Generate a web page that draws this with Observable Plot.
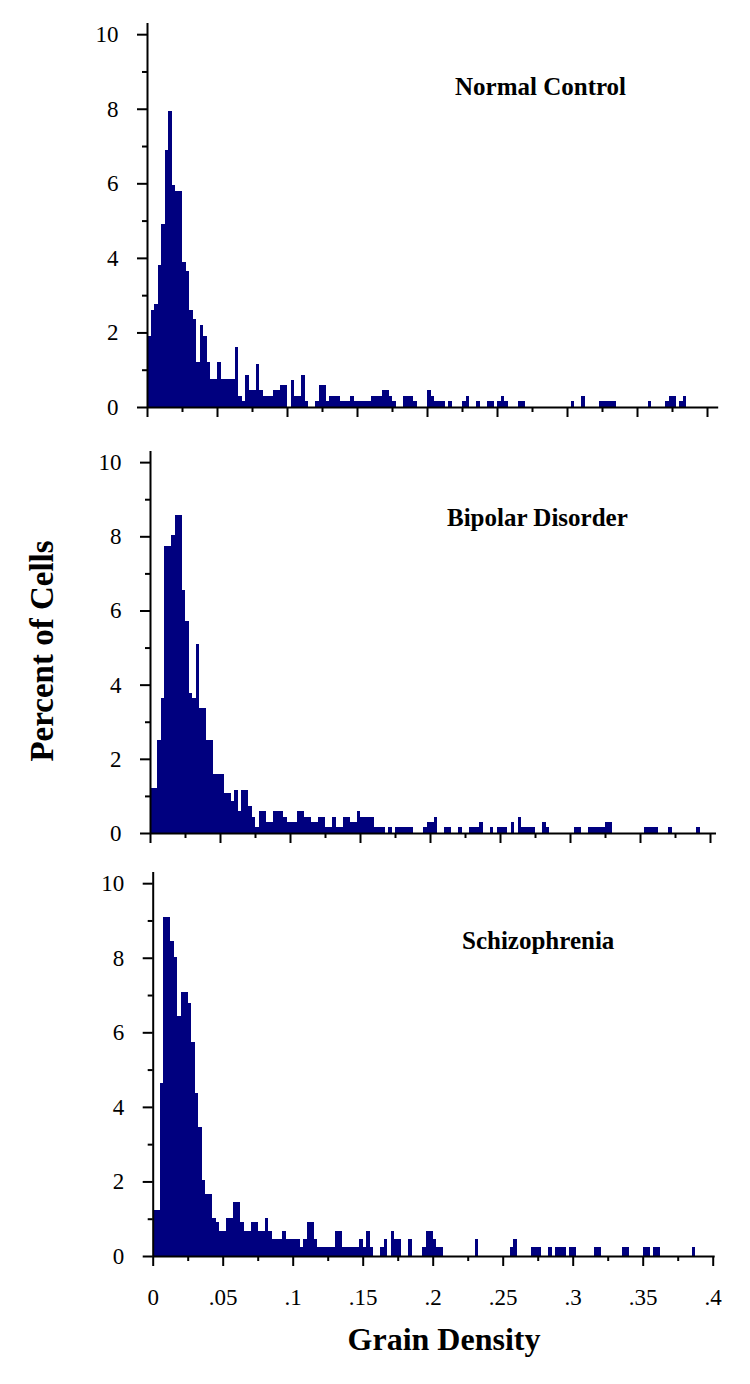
<!DOCTYPE html>
<html>
<head>
<meta charset="utf-8">
<script src="https://cdn.jsdelivr.net/npm/d3@7"></script>
<script src="https://cdn.jsdelivr.net/npm/@observablehq/plot@0.6"></script>
<style>
  html, body { margin: 0; padding: 0; background: #ffffff; }
  #wrap { position: relative; width: 750px; height: 1384px; overflow: hidden; font-family: "Liberation Serif", "Times New Roman", serif; }
  .panel { position: absolute; left: 0; }
  .ptitle { position: absolute; font-weight: bold; font-size: 25px; line-height: 25px; white-space: nowrap; color: #000; }
  .axtitle { position: absolute; font-weight: bold; white-space: nowrap; color: #000; }
</style>
</head>
<body>
<div id="wrap"></div>
<script>
// ---------- data ----------
const binWidth = 0.0025; // grain density per bin
const panelTitles = ["Normal Control", "Bipolar Disorder", "Schizophrenia"];
const xTitle = "Grain Density";
const yTitle = "Percent of Cells";
const yMajorTicks = [0, 2, 4, 6, 8, 10];
const yMinorTicks = [1, 3, 5, 7, 9];
const xMajorTicks = [0, 0.05, 0.1, 0.15, 0.2, 0.25, 0.3, 0.35, 0.4];
const xMinorTicks = [0.025, 0.075, 0.125, 0.175, 0.225, 0.275, 0.325, 0.375];
const xTickLabels = ["0", ".05", ".1", ".15", ".2", ".25", ".3", ".35", ".4"];

// percent of cells per bin (bin i covers [i*0.0025, (i+1)*0.0025))
const normalControl = [
  1.9, 2.6, 2.75, 3.8, 4.9, 6.9, 7.95, 5.95, 5.8, 5.8,
  3.9, 3.65, 2.6, 2.35, 1.2, 2.2, 1.9, 1.2, 0.75, 0.75,
  1.2, 0.75, 0.75, 0.75, 0.75, 1.6, 0.3, 0.15, 0.87, 0.45,
  0.45, 1.15, 0.45, 0.3, 0.3, 0.3, 0.45, 0.45, 0.6, 0.6,
  0, 0.73, 0.3, 0.3, 0.87, 0.15, 0, 0, 0.15, 0.6,
  0.6, 0.15, 0.3, 0.3, 0.3, 0.15, 0.15, 0.15, 0.3, 0.15,
  0.15, 0.15, 0.15, 0.15, 0.3, 0.3, 0.3, 0.45, 0.45, 0.3,
  0.15, 0, 0, 0.3, 0.3, 0.3, 0.15, 0, 0, 0,
  0.45, 0.3, 0.15, 0.15, 0.15, 0, 0.15, 0, 0, 0,
  0.15, 0.3, 0, 0, 0.15, 0, 0, 0.15, 0.15, 0,
  0.15, 0.3, 0.15, 0, 0, 0, 0.15, 0.15, 0, 0,
  0, 0, 0, 0, 0, 0, 0, 0, 0, 0,
  0, 0.15, 0, 0, 0.3, 0, 0, 0, 0, 0.15,
  0.15, 0.15, 0.15, 0.15, 0, 0, 0, 0, 0, 0,
  0, 0, 0, 0.15, 0, 0, 0, 0, 0.15, 0.3,
  0.3, 0, 0.15, 0.3, 0, 0, 0, 0, 0, 0
];
const bipolarDisorder = [
  1.2, 1.2, 2.5, 3.63, 7.75, 7.75, 8.03, 8.58, 8.58, 6.55,
  5.72, 3.78, 3.63, 5.1, 3.38, 3.38, 2.5, 2.5, 1.6, 1.6,
  1.6, 1.08, 1.08, 0.87, 1.16, 0.58, 1.16, 1.16, 0.72, 0.43,
  0.15, 0.58, 0.58, 0.29, 0.29, 0.58, 0.58, 0.58, 0.43, 0.29,
  0.29, 0.29, 0.58, 0.58, 0.43, 0.43, 0.29, 0.29, 0.43, 0.43,
  0.15, 0.15, 0.43, 0.15, 0.15, 0.43, 0.43, 0.29, 0.29, 0.58,
  0.43, 0.43, 0.43, 0.43, 0.15, 0.15, 0.15, 0, 0.15, 0,
  0.15, 0.15, 0.15, 0.15, 0.15, 0, 0, 0, 0.15, 0.29,
  0.29, 0.43, 0, 0, 0.15, 0.15, 0, 0, 0.15, 0,
  0, 0.15, 0.15, 0.15, 0.29, 0, 0, 0.15, 0, 0.15,
  0.15, 0.15, 0, 0.29, 0, 0.43, 0.15, 0.15, 0.15, 0.15,
  0, 0, 0.29, 0.15, 0, 0, 0, 0, 0, 0,
  0, 0.15, 0.15, 0, 0, 0.15, 0.15, 0.15, 0.15, 0.15,
  0.29, 0.29, 0, 0, 0, 0, 0, 0, 0, 0,
  0, 0.15, 0.15, 0.15, 0.15, 0, 0, 0, 0.15, 0,
  0, 0, 0, 0, 0, 0, 0.15, 0, 0, 0
];
const schizophrenia = [
  1.23, 1.23, 4.63, 9.08, 9.08, 8.46, 8.01, 6.45, 7.08, 7.08,
  6.78, 5.73, 4.36, 3.45, 2.04, 1.66, 1.66, 1.01, 0.9, 0.68,
  0.68, 1.01, 1.01, 1.44, 1.44, 0.9, 0.68, 0.68, 0.9, 0.9,
  0.68, 0.68, 1.01, 0.68, 0.45, 0.45, 0.45, 0.68, 0.45, 0.45,
  0.45, 0.45, 0.23, 0.45, 0.9, 0.9, 0.45, 0.23, 0.23, 0.23,
  0.23, 0.23, 0.68, 0.68, 0.23, 0.23, 0.23, 0.23, 0.23, 0.45,
  0.23, 0.68, 0.23, 0, 0, 0.23, 0.45, 0, 0.68, 0.45,
  0.45, 0, 0, 0.45, 0, 0, 0, 0.23, 0.68, 0.68,
  0.45, 0.23, 0.23, 0, 0, 0, 0, 0, 0, 0,
  0, 0, 0.45, 0, 0, 0, 0, 0, 0, 0,
  0, 0, 0.23, 0.45, 0, 0, 0, 0, 0.23, 0.23,
  0.23, 0, 0, 0.23, 0, 0.23, 0.23, 0.23, 0, 0.23,
  0.23, 0, 0, 0, 0, 0, 0.23, 0.23, 0, 0,
  0, 0, 0, 0, 0.23, 0.23, 0, 0, 0, 0,
  0.23, 0.23, 0, 0.23, 0.23, 0, 0, 0, 0, 0,
  0, 0, 0, 0, 0.23, 0, 0, 0, 0, 0
];

// ---------- layout ----------
const panels = [
  { values: normalControl, title: panelTitles[0], top: 0, height: 430, marginTop: 23, marginBottom: 23, marginLeft: 147, xmax: 0.408, labels: false, titleLeft: 455, titleTop: 74 },
  { values: bipolarDisorder, title: panelTitles[1], top: 430, height: 425, marginTop: 21, marginBottom: 22, marginLeft: 150, xmax: 0.4043, labels: false, titleLeft: 447, titleTop: 505 },
  { values: schizophrenia, title: panelTitles[2], top: 855, height: 529, marginTop: 17, marginBottom: 128, marginLeft: 152.7, xmax: 0.4014, labels: true, titleLeft: 462, titleTop: 928 }
];
const pxPerUnit = 1400;
const barColor = "#00007f";
const tickFont = 23;

const wrap = document.getElementById("wrap");

for (const p of panels) {
  const bins = p.values
    .map((v, i) => ({ x1: i * binWidth, x2: (i + 1) * binWidth, pct: v }))
    .filter(d => d.pct > 0);
  const marginRight = 750 - p.marginLeft - p.xmax * pxPerUnit;
  const chart = Plot.plot({
    width: 750,
    height: p.height,
    marginLeft: p.marginLeft,
    marginRight: marginRight,
    marginTop: p.marginTop,
    marginBottom: p.marginBottom,
    x: { domain: [0, p.xmax] },
    y: { domain: [0, 10.3] },
    style: { fontFamily: "'Liberation Serif', 'Times New Roman', serif", fontSize: tickFont + "px", color: "#000", background: "transparent", overflow: "visible" },
    marks: [
      Plot.rectY(bins, { x1: "x1", x2: "x2", y: "pct", fill: barColor, inset: 0, shapeRendering: "crispEdges" }),
      Plot.axisY({ ticks: yMajorTicks, tickSize: 10, tickPadding: 19, strokeWidth: 2, label: null, fontSize: tickFont }),
      Plot.axisY({ ticks: yMinorTicks, tickSize: 5, strokeWidth: 2, fill: "none", label: null }),
      Plot.axisX({ ticks: xMajorTicks, tickSize: 10, tickPadding: 22, strokeWidth: 2, label: null, fontSize: tickFont,
        fill: p.labels ? "#000" : "none",
        tickFormat: d => xTickLabels[Math.round(d / 0.05)] }),
      Plot.axisX({ ticks: xMinorTicks, tickSize: 5, strokeWidth: 2, fill: "none", label: null }),
      Plot.ruleX([0], { strokeWidth: 2 }),
      Plot.ruleY([0], { strokeWidth: 2 })
    ]
  });
  chart.classList.add("panel");
  chart.style.top = p.top + "px";
  wrap.appendChild(chart);

  const t = document.createElement("div");
  t.className = "ptitle";
  t.textContent = p.title;
  t.style.left = p.titleLeft + "px";
  t.style.top = p.titleTop + "px";
  wrap.appendChild(t);
}

const xt = document.createElement("div");
xt.className = "axtitle";
xt.textContent = xTitle;
xt.style.fontSize = "32px";
xt.style.lineHeight = "32px";
xt.style.left = "444px";
xt.style.top = "1323px";
xt.style.transform = "translateX(-50%)";
wrap.appendChild(xt);

const yt = document.createElement("div");
yt.className = "axtitle";
yt.textContent = yTitle;
yt.style.fontSize = "33px";
yt.style.lineHeight = "33px";
yt.style.left = "42px";
yt.style.top = "651px";
yt.style.transform = "translate(-50%, -50%) rotate(-90deg)";
wrap.appendChild(yt);
</script>
</body>
</html>
